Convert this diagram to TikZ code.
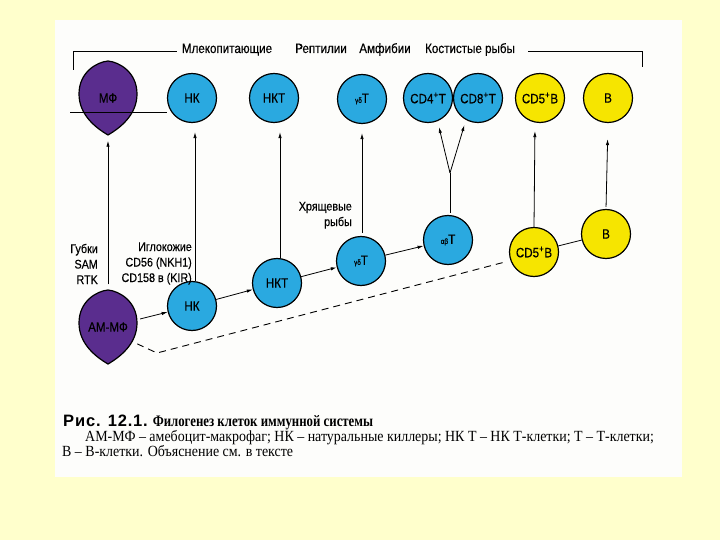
\documentclass[tikz,border=0pt]{standalone}
\usepackage{fontspec}
\setmainfont{Liberation Serif}
\newfontfamily\labfont[FakeStretch=0.86, FakeBold=0.4]{Liberation Sans}
\newfontfamily\capsans[LetterSpace=5]{Liberation Sans}
\newfontfamily\capserif[FakeStretch=0.8]{Liberation Serif}
\newfontfamily\bodyserif[FakeStretch=0.9]{Liberation Serif}
\usetikzlibrary{arrows.meta,calc}
\definecolor{bgyellow}{HTML}{FFFFCC}
\definecolor{pagewhite}{HTML}{FDFDFB}
\definecolor{cellblue}{HTML}{2AA9E0}
\definecolor{cellpurple}{HTML}{5A2D8E}
\definecolor{cellyellow}{HTML}{F6E500}
\newcommand{\lemonshape}[2]{%
  \filldraw[fill=cellpurple, draw=black, line width=1.2pt]
    (#1,#2-37) .. controls +(11,1) and +(0,-22) .. (#1+29,#2-4)
    .. controls +(0,21) and +(12,-7) .. (#1,#2+37)
    .. controls +(-12,-7) and +(0,21) .. (#1-29,#2-4)
    .. controls +(0,-22) and +(-11,1) .. cycle;}
\newcommand{\gd}{{\fontsize{7.5}{8}\selectfont γδ}}
\newcommand{\ab}{{\fontsize{7.5}{8}\selectfont αβ}}
\newcommand{\plussup}{\textsuperscript{+}}
\begin{document}
\begin{tikzpicture}[x=1pt,y=-1pt,
  cell/.style={circle, draw=black, line width=1.2pt, minimum size=49pt, inner sep=0pt,
    font=\labfont\fontsize{13.5}{15}\selectfont},
  bcell/.style={cell, fill=cellblue},
  ycell/.style={cell, fill=cellyellow},
  lemonbox/.style={rectangle, minimum width=58pt, minimum height=73pt, inner sep=0pt,
    font=\labfont\fontsize{13.5}{15}\selectfont},
  hdr/.style={anchor=base, inner sep=0pt, font=\labfont\fontsize{13.5}{15}\selectfont},
  side/.style={anchor=base east, align=right, inner sep=0pt, font=\labfont\fontsize{12.5}{15.5}\selectfont},
  captext/.style={anchor=base west, inner sep=0pt},
  arr/.style={-{Latex[length=6pt,width=3.4pt]}, line width=0.8pt},
  conn/.style={line width=0.8pt},
  dashconn/.style={line width=0.9pt, dash pattern=on 7pt off 5pt},
]
\useasboundingbox (0,0) rectangle (720,540);
\fill[bgyellow] (0,0) rectangle (720,540);
\fill[pagewhite] (55,20) rectangle (682,477);

% header
\node[hdr] (tmam) at (227,53) {Млекопитающие};
\node[hdr] (trep) at (321,53) {Рептилии};
\node[hdr] (tamf) at (385,53) {Амфибии};
\node[hdr] (tkos) at (470,53) {Костистые рыбы};
\coordinate (bl) at (73,70);
\coordinate (blc) at (73,51);
\coordinate (ble) at (177,51);
\coordinate (brs) at (528,51);
\coordinate (brc) at (642,51);
\coordinate (br) at (642,67);
\draw[conn] (bl) -- (blc) -- (ble);
\draw[conn] (brs) -- (brc) -- (br);

% top row
\lemonshape{108}{98}
\node[lemonbox] (mf) at (108,98) {МФ};
\node[bcell] (nkt1) at (192,98) {НК};
\node[bcell] (nktt) at (274,98) {НКТ};
\node[bcell] (gdt) at (362,99) {\gd T};
\node[bcell] (cd4) at (428,98) {CD4\plussup T};
\node[bcell] (cd8) at (478,98) {CD8\plussup T};
\node[ycell] (cd5) at (540,98) {CD5\plussup B};
\node[ycell] (bt) at (608,98) {B};

\coordinate (ml) at (70,112);
\coordinate (mr) at (167,112);
\draw[line width=0.8pt] (ml) -- (mr);

% bottom row
\lemonshape{108}{327}
\node[lemonbox] (amf) at (108,327) {АМ-МФ};
\node[bcell] (nkb) at (192,306) {НК};
\node[bcell] (nktb) at (277,283) {НКТ};
\node[bcell] (gdb) at (361,261) {\gd T};
\node[bcell] (abb) at (448,240) {\ab T};
\node[ycell] (cd5b) at (534,252) {CD5\plussup B};
\node[ycell] (bb) at (606,234) {B};

% side labels
\node[side] (gub) at (98,284) {Губки\\SAM\\RTK};
\node[side] (igl) at (192,282) {Иглокожие\\CD56 (NKH1)\\CD158 в (KIR)};
\node[side] (hry) at (352,226) {Хрящевые\\рыбы};

% vertical arrows
\draw[arr, shorten <=6pt, shorten >=6pt] (amf.north) -- (mf.south);
\draw[arr, shorten >=9pt] ($(nkb.north)+(3,0)$) -- ($(nkt1.south)+(3,0)$);
\draw[arr, shorten >=9pt] ($(nktb.north)+(3,0)$) -- ($(nktt.south)+(6,0)$);
\draw[arr, shorten <=3pt, shorten >=9pt] ($(gdb.north)+(1,0)$) -- (gdt.south);
\draw[arr, shorten >=8pt] (cd5b.north) -- ($(cd5.south)+(-5,0)$);
\draw[arr, shorten <=2pt, shorten >=16pt] (bb.north) -- (bt.south);
% Y junction
\coordinate (yj) at (450,173);
\draw[conn, shorten <=2pt] ($(abb.north)+(2,0)$) -- (yj);
\draw[arr, shorten >=4pt] (yj) -- ($(cd4.south)+(10,0)$);
\draw[arr, shorten >=2pt] (yj) -- ($(cd8.south)+(-13,0)$);

% diagonal arrows
\draw[arr, shorten <=3pt] (amf) -- (nkb);
\draw[arr] (nkb) -- (nktb);
\draw[arr] (nktb) -- (gdb);
\draw[arr] (gdb) -- (abb);
\draw[conn] (cd5b) -- (bb);

% dashed
\coordinate (dk) at (157,353);
\draw[dashconn, shorten >=7pt] (amf.-30) -- (dk) -- (cd5b.200);

% caption
\node[captext] (cap1) at (63,426)
  {{\capsans\bfseries\fontsize{16.5}{18}\selectfont Рис. 12.1.}\hspace{5pt}{\capserif\bfseries\fontsize{16}{18}\selectfont Филогенез клеток иммунной системы}};
\node[captext, font=\bodyserif\fontsize{15.5}{17}\selectfont] (cap2) at (85,441)
  {АМ-МФ – амебоцит-макрофаг; НК – натуральные киллеры; НК Т – НК Т-клетки; Т – Т-клетки;};
\node[captext, font=\bodyserif\fontsize{15.5}{17}\selectfont] (cap3) at (62,456)
  {В – В-клетки. Объяснение см. в тексте};
\end{tikzpicture}
\end{document}
